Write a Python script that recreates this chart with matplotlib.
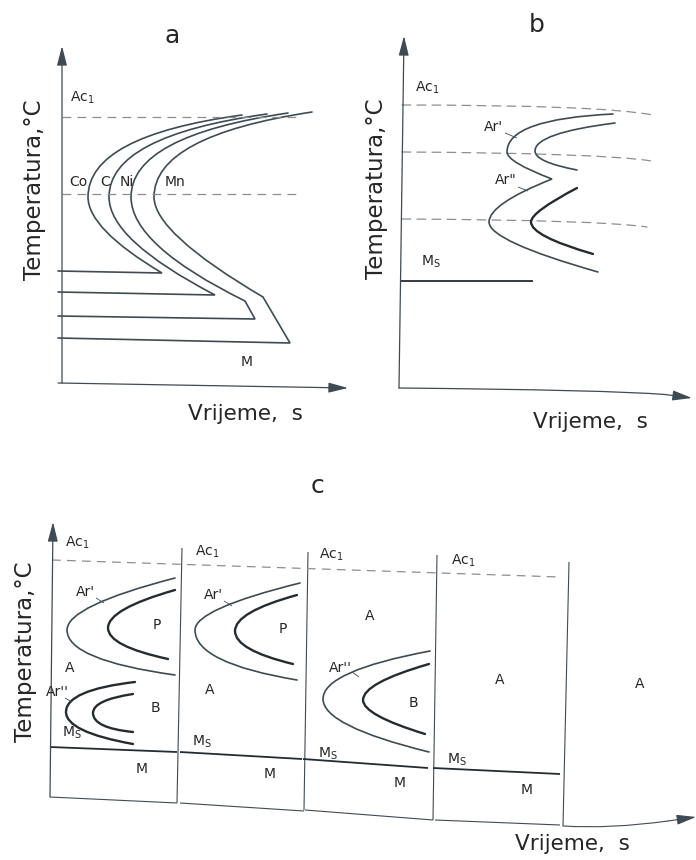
import matplotlib
matplotlib.use('Agg')
import matplotlib.pyplot as plt
from matplotlib.path import Path
from matplotlib.patches import PathPatch

# ---------------- data (time, temperature in drawing units) ----------------
# Panel a: C-curves for Co, C, Ni, Mn  (top end, ctrl, nose, ctrl, tip, ..., M-line)
a_Co = [(242, 115), (88, 136), (88, 197), (88, 229), (162, 273), (58, 271)]
a_Co_codes = "MQQQQL"
a_C = [(267, 114), (109, 136), (109, 197), (109, 240), (215, 295), (58, 292)]
a_C_codes = "MQQQQL"
a_Ni = [(288, 113), (131, 136), (131, 197), (131, 245), (245, 301), (255, 319), (58, 316)]
a_Ni_codes = "MQQQQLL"
a_Mn = [(312, 112), (154, 136), (154, 197), (154, 233), (263, 297), (290, 343), (58, 338)]
a_Mn_codes = "MQQQQLL"
a_dashed = [[(62, 117), (300, 117)], [(62, 194), (297, 194)]]
a_yaxis = [(62, 383), (62, 46)]
a_xaxis = [(58, 383), (348, 388)]
a_labels = [("Ac$_\\mathregular{1}$", 82, 98), ("Co", 78, 182), ("C", 105, 182),
            ("Ni", 127, 182), ("Mn", 175, 182), ("M", 247, 362)]

# Panel b
b_outer = [(613, 114), (507, 119), (507, 152), (507, 162), (552, 179),
           (489, 204), (489, 222), (489, 241), (598, 272)]
b_outer_codes = "MQQQQQQQQ"
b_inner_up = [(615, 123), (535, 133), (535, 151), (535, 162), (577, 170)]
b_inner_low = [(577, 188), (531, 212), (531, 222), (531, 236), (593, 254)]
b_dashed = [[(402, 105), (600, 105), (653, 115)],
            [(402, 152), (600, 153), (652, 161)],
            [(402, 219), (600, 220), (647, 227)]]
b_ms = [(400, 281), (533, 281)]
b_yaxis = [(399, 388), (404, 36)]
b_xaxis = [(399, 388), (610, 390), (665, 394.5)]
b_xtip = (692, 398)
b_labels = [("Ac$_\\mathregular{1}$", 427, 88), ("Ar'", 493, 127), ('Ar"', 506, 180),
            ("M$_\\mathregular{S}$", 431, 262)]
b_leaders = [[(505, 133), (517, 138)], [(518, 187), (528, 191)]]

# Panel c
c_yaxis = [(50, 797), (53, 522)]
c_vlines = [[(177, 803), (182, 548)], [(304, 810), (308, 552)],
            [(433, 820), (437, 555)], [(563, 826), (569, 562)]]
c_bottom = [[(50, 797), (177, 803)], [(180, 803), (304, 811)],
            [(305, 810), (433, 820)], [(435, 820), (560, 825)]]
c_bottom_last = [(563, 826), (610, 829), (668, 821)]
c_xtip = (696, 817)
c_ac1 = [(52, 560), (560, 577)]
c_ms = [[(50, 747), (177, 752)], [(180, 752), (302, 759)],
        [(303, 759), (428, 768)], [(433, 768), (560, 774)]]
c_thin = [
    [(175, 578), (67, 606), (67, 630), (67, 660), (175, 675)],      # box1 Ar' (P start)
    [(300, 583), (195, 609), (195, 630), (195, 663), (297, 680)],   # box2 Ar'
    [(430, 651), (323, 671), (323, 699), (323, 726), (429, 752)],   # box3 Ar''
]
c_thick = [
    [(175, 590), (108, 609), (108, 628), (108, 646), (168, 659)],   # box1 P end
    [(135, 682), (66, 690), (66, 712), (66, 732), (133, 744)],      # box1 Ar''
    [(133, 694), (93, 700), (93, 713), (93, 728), (133, 732)],      # box1 B end
    [(297, 595), (235, 612), (235, 631), (235, 650), (293, 664)],   # box2 P end
    [(429, 664), (363, 683), (363, 700), (363, 715), (425, 734)],   # box3 B end
]
c_labels = [("Ac$_\\mathregular{1}$", 77, 543), ("Ac$_\\mathregular{1}$", 207, 552),
            ("Ac$_\\mathregular{1}$", 331, 555), ("Ac$_\\mathregular{1}$", 463, 561),
            ("M$_\\mathregular{S}$", 72, 733), ("M$_\\mathregular{S}$", 202, 742),
            ("M$_\\mathregular{S}$", 328, 754), ("M$_\\mathregular{S}$", 457, 760),
            ("M", 142, 769), ("M", 270, 774), ("M", 400, 783), ("M", 527, 790),
            ("A", 70, 668), ("A", 210, 690), ("A", 370, 616), ("A", 500, 680), ("A", 640, 684),
            ("P", 157, 625), ("P", 283, 629), ("B", 155, 708), ("B", 413, 703),
            ("Ar'", 85, 592), ("Ar'", 213, 595), ("Ar''", 57, 692), ("Ar''", 340, 668)]
c_leaders = [[(96, 598), (104, 603)], [(224, 601), (232, 606)],
             [(65, 698), (72, 702)], [(352, 672), (359, 677)]]

panel_letters = [("a", 172, 36), ("b", 537, 25), ("c", 318, 486)]
ylabels = [(35, 190), (376, 189), (26, 652)]
xlabels = [(245, 414), (590, 422), (572, 844)]
ylabel_text = "Temperatura,°C"
xlabel_text = "Vrijeme,  s"

# ---------------- drawing ----------------
LINE = '#3f4b54'
DARK = '#252c31'
DASH = '#8a8f93'
TXT = '#262626'

fig = plt.figure(figsize=(6.96, 8.6), dpi=100)
ax = fig.add_axes([0, 0, 1, 1])
ax.set_xlim(0, 696)
ax.set_ylim(860, 0)
ax.axis('off')

CODE = {'M': Path.MOVETO, 'L': Path.LINETO, 'Q': Path.CURVE3}


def curve(pts, codes, lw, color, dashes=None):
    path = Path(pts, [CODE[c] for c in codes])
    patch = PathPatch(path, fill=False, lw=lw, edgecolor=color,
                      capstyle='round', joinstyle='miter')
    if dashes is not None:
        patch.set_linestyle((0, dashes))
    ax.add_patch(patch)


def poly(pts, lw=0.9, color=LINE, ls='-'):
    xs = [p[0] for p in pts]
    ys = [p[1] for p in pts]
    if ls == '--':
        ax.plot(xs, ys, color=color, lw=lw, dashes=(7, 5))
    else:
        ax.plot(xs, ys, color=color, lw=lw, solid_capstyle='butt')


def arrow(start, tip, lw=0.9, color=LINE):
    ax.annotate('', xy=tip, xytext=start,
                arrowprops=dict(arrowstyle='-|>,head_length=0.85,head_width=0.22',
                                color=color, lw=lw, mutation_scale=14,
                                shrinkA=0, shrinkB=0))


def label(s, x, y, fs=10):
    ax.text(x, y, s, ha='center', va='center', fontsize=fs, color=TXT)


# Panel a
arrow(a_yaxis[0], a_yaxis[1])
arrow(a_xaxis[0], a_xaxis[1])
for d in a_dashed:
    poly(d, lw=0.9, color=DASH, ls='--')
for pts, codes in [(a_Co, a_Co_codes), (a_C, a_C_codes), (a_Ni, a_Ni_codes), (a_Mn, a_Mn_codes)]:
    curve(pts, codes, 1.2, LINE)
for s, x, y in a_labels:
    label(s, x, y)

# Panel b
arrow(b_yaxis[0], b_yaxis[1])
curve(b_xaxis, "MQQ", 0.9, LINE)
arrow(b_xaxis[-1], b_xtip)
for d in b_dashed:
    curve(d, "MQQ", 0.9, DASH, dashes=(7, 5))
curve(b_outer, b_outer_codes, 1.2, LINE)
curve(b_inner_up, "MQQQQ", 1.2, LINE)
curve(b_inner_low, "MQQQQ", 1.7, DARK)
poly(b_ms, lw=1.3, color=DARK)
for s, x, y in b_labels:
    label(s, x, y)
for ld in b_leaders:
    poly(ld, lw=0.6, color=LINE)

# Panel c
arrow(c_yaxis[0], c_yaxis[1])
for v in c_vlines:
    poly(v, lw=0.8)
for b in c_bottom:
    poly(b, lw=0.8)
curve(c_bottom_last, "MQQ", 0.8, LINE)
arrow(c_bottom_last[-1], c_xtip, lw=0.8)
poly(c_ac1, lw=0.9, color=DASH, ls='--')
for m in c_ms:
    poly(m, lw=1.3, color=DARK)
for pts in c_thin:
    curve(pts, "MQQQQ", 1.2, LINE)
for pts in c_thick:
    curve(pts, "MQQQQ", 1.7, DARK)
for s, x, y in c_labels:
    label(s, x, y)
for ld in c_leaders:
    poly(ld, lw=0.6, color=LINE)

# Titles and axis labels
for s, x, y in panel_letters:
    ax.text(x, y, s, ha='center', va='center', fontsize=18, color=TXT)
for x, y in ylabels:
    ax.text(x, y, ylabel_text, ha='center', va='center', rotation=90,
            fontsize=16.5, color=TXT)
for x, y in xlabels:
    ax.text(x, y, xlabel_text, ha='center', va='center', fontsize=15.5, color=TXT)

fig.savefig('out.png', dpi=100, facecolor='white')
